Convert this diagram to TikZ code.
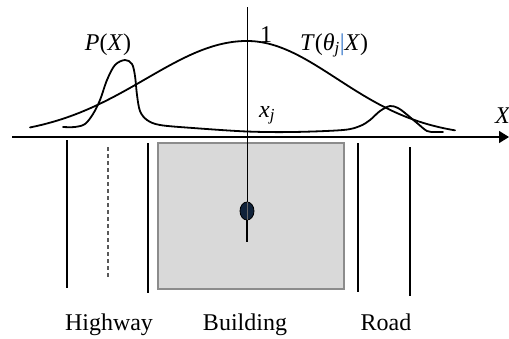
\documentclass[tikz,border=0pt]{standalone}
\usepackage{fontspec}
\setmainfont{Liberation Serif}
\usetikzlibrary{arrows.meta,shapes.geometric}
\definecolor{dotnavy}{RGB}{16,34,58}
\definecolor{bldfill}{RGB}{217,217,217}
\definecolor{bldedge}{RGB}{140,140,140}
\definecolor{barblue}{RGB}{50,115,200}
\begin{document}
\begin{tikzpicture}[x=1pt,y=-1pt,
  lbl/.style={font=\fontsize{24}{28}\selectfont, inner sep=0pt},
  curve/.style={line width=1.8pt, line join=round, line cap=round},
  thinroad/.style={line width=1.4pt},
  thickroad/.style={line width=2.1pt},
  laneline/.style={line width=1.1pt, draw=black!65, dash pattern=on 4pt off 3pt},
  axisline/.style={line width=1.4pt, -{Triangle[length=10pt,width=12pt]}},
  probe/.style={line width=1pt}]
\useasboundingbox (0,0) rectangle (509,338);

% building
\node[draw=bldedge, fill=bldfill, line width=1.5pt, minimum width=186pt, minimum height=146pt, inner sep=0pt] (bld) at (251,216) {};

% road / highway edges
\coordinate (h1a) at (67,140);  \coordinate (h1b) at (67,288);
\coordinate (h2a) at (108,147); \coordinate (h2b) at (108,279);
\coordinate (h3a) at (148,143); \coordinate (h3b) at (148,293);
\coordinate (r1a) at (358,143); \coordinate (r1b) at (358,292);
\coordinate (r2a) at (410,147); \coordinate (r2b) at (410,296);
\draw[thinroad] (h1a) -- (h1b);
\draw[laneline] (h2a) -- (h2b);
\draw[thickroad] (h3a) -- (h3b);
\draw[thickroad] (r1a) -- (r1b);
\draw[line width=1.8pt] (r2a) -- (r2b);

% axis
\coordinate (ax0) at (12,137);
\coordinate (ax1) at (509,137);
\draw[axisline] (ax0) -- (ax1);
\node[lbl, font=\fontsize{24}{28}\selectfont\itshape, anchor=west] (xlab) at (495,116) {X};

% T curve (asymmetric gaussian)
\draw[curve] plot[domain=30:247, samples=80] (\x, {137-96*exp(-0.5*((\x-247)/101)^2)})
  -- plot[domain=247:455, samples=80] (\x, {137-96*exp(-0.5*((\x-247)/90)^2)});

% P curve
\draw[curve] plot[smooth, tension=0.55] coordinates {
  (63,127) (75,127) (85,124) (93,114) (100,100) (107,80) (115,65) (125,60)
  (132,64) (135,76) (137,95) (140,111) (147,120) (160,125) (193,128)
  (247,131.5) (293,132) (343,130) (360,126) (370,120) (380,111) (390,106)
  (398,108) (405,113) (417,123) (427,131) (435,132) (443,132)};

% probe line and dot
\node[ellipse, draw=black, fill=dotnavy, minimum width=14pt, minimum height=18pt, inner sep=0pt, line width=0.8pt] (dot) at (247,211) {};
\coordinate (vtop) at (247,7);
\coordinate (vbot) at (247,242);
\draw[probe] (vtop) -- (dot.north);
\draw[probe, draw=black!60] (dot.north) -- (dot.south);
\draw[line width=1.3pt] (dot.south) -- (vbot);

% labels
\node[lbl, anchor=base] (pl) at (108,50) {\textit{P}(\textit{X})};
\node[lbl, anchor=base] (one) at (266,42) {1};
\node[lbl, anchor=base west] (tl) at (300,50) {\textit{T}(\textit{θ}\textsubscript{\textit{j}}\textcolor{barblue}{|}\textit{X})};
\node[lbl, anchor=base west] (xj) at (259,117) {\textit{x}\textsubscript{\textit{j}}};
\node[lbl, anchor=base] (hw) at (109,330) {Highway};
\node[lbl, anchor=base] (bl) at (245,330) {Building};
\node[lbl, anchor=base] (rd) at (386,330) {Road};
\end{tikzpicture}
\end{document}
